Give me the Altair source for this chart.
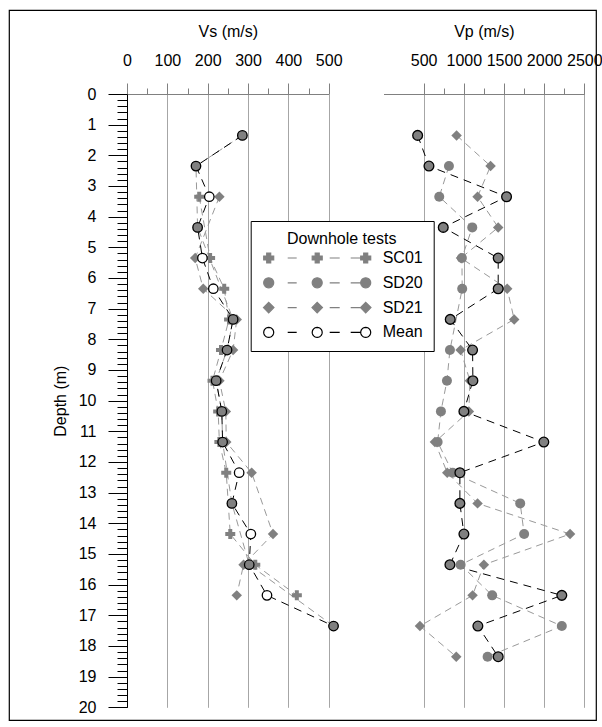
import math

import altair as alt
import pandas as pd

# ---------------------------------------------------------------- data
series_names = ["SC01", "SD20", "SD21", "Mean"]

# Shear-wave velocity (m/s) per test depth
vs_depth = [1.35, 2.35, 3.35, 4.35, 5.35, 6.35, 7.35, 8.35, 9.35, 10.35,
            11.35, 12.35, 13.35, 14.35, 15.35, 16.35, 17.35]
vs_sc01 = [None, None, 179, None, 206, 241, 253, 233, 212, 226,
           229, 246, None, 256, 318, 421, None]
vs_sd20 = [286, 171, None, 175, None, None, 263, 248, 221, 235,
           237, None, 260, None, 303, None, 512]
vs_sd21 = [None, None, 229, None, 169, 189, 272, 263, 229, 245,
           246, 309, None, 362, 289, 272, None]
vs_mean = [286, 171, 204, 175, 187, 214, 263, 248, 221, 235,
           237, 278, 260, 307, 303, 347, 512]

# Compression-wave velocity (m/s) per test depth
vp_depth = [1.35, 2.35, 3.35, 4.35, 5.35, 6.35, 7.35, 8.35, 9.35, 10.35,
            11.35, 12.35, 13.35, 14.35, 15.35, 16.35, 17.35, 18.35]
vp_sd20 = [None, 815, 694, 1105, 976, 980, None, 827, 790, 715,
           674, 861, 1702, 1751, 960, 1353, 2220, 1296]
vp_sd21 = [910, 1333, 1171, 1428, 965, 1540, 1627, 960, 1076, 1063,
           640, 794, 1171, 2323, 1250, 1109, 454, 906]
vp_mean = [425, 566, 1532, 744, 1428, 1428, 831, 1109, 1113, 1001,
           1996, 951, 951, 1001, 827, 2220, 1175, 1428]

vs_ticks = list(range(0, 501, 50))
vp_ticks = list(range(500, 2501, 250))
depth_ticks = [round(i * 0.2, 1) for i in range(101)]


def long_table(depths, columns):
    rows = []
    for name, values in columns.items():
        for d, v in zip(depths, values):
            if v is not None:
                rows.append({"series": name, "depth": d, "value": v})
    return pd.DataFrame(rows)


vs = long_table(vs_depth, {"SC01": vs_sc01, "SD20": vs_sd20,
                           "SD21": vs_sd21, "Mean": vs_mean})
vp = long_table(vp_depth, {"SD20": vp_sd20, "SD21": vp_sd21, "Mean": vp_mean})

# ---------------------------------------------------------------- style
FONT = "Liberation Sans"
GRAY = "#808080"
LINE_GRAY = "#999999"
GRID_GRAY = "#a6a6a6"

FRAME_W, FRAME_H = 587, 710
VS_RANGE = [118, 319.7]
VP_RANGE = [374.5, 575.3]
DEPTH_RANGE = [84, 697.3]

y_major = "abs(datum.value - round(datum.value)) < 0.01"
y_enc = alt.Y(
    "depth:Q",
    scale=alt.Scale(domain=[0, 20], range=DEPTH_RANGE, nice=False, zero=False),
    axis=alt.Axis(
        title="Depth (m)", orient="left", offset=-VS_RANGE[0],
        values=depth_ticks, grid=False, labelOverlap=False,
        labelExpr=f"{y_major} ? format(round(datum.value), 'd') : ''",
        tickSize={"condition": {"test": y_major, "value": 19}, "value": 10},
        tickColor="black", domainColor="black", labelPadding=12,
        titlePadding=10,
    ),
)


def top_axis(title, values, step):
    major = f"datum.value % {step} === 0"
    return alt.Axis(
        title=title, orient="top", offset=-DEPTH_RANGE[0], values=values,
        labelExpr=f"{major} ? format(datum.value, 'd') : ''",
        labelOverlap=False, labelBound=False, labelFlush=False,
        tickSize={"condition": {"test": major, "value": 11}, "value": 6},
        tickColor=GRAY, domainColor=GRAY, grid=True, gridColor=GRID_GRAY,
        gridOpacity={"condition": {"test": f"{major} && datum.value > 0",
                                   "value": 1}, "value": 0},
        labelPadding=15, titlePadding=13,
    )


vs_x = alt.X("value:Q",
             scale=alt.Scale(domain=[0, 500], range=VS_RANGE, nice=False, zero=False),
             axis=top_axis("Vs (m/s)", vs_ticks, 100))
vp_x = alt.X("value:Q",
             scale=alt.Scale(domain=[0, 2500], range=VP_RANGE, nice=False, zero=False),
             axis=top_axis("Vp (m/s)", vp_ticks, 500))


# ---------------------------------------------------------------- legend glyphs
def fmt(v):
    return f"{v:.3f}".rstrip("0").rstrip(".")


def circle_path(cx):
    pts = [(cx + math.cos(2 * math.pi * k / 24), math.sin(2 * math.pi * k / 24))
           for k in range(24)]
    return "M" + "L".join(f"{fmt(x)},{fmt(y)}" for x, y in pts) + "Z"


def cross_path(cx):
    a, b = 1.0, 0.4
    pts = [(-a, -b), (-b, -b), (-b, -a), (b, -a), (b, -b), (a, -b),
           (a, b), (b, b), (b, a), (-b, a), (-b, b), (-a, b)]
    return "M" + "L".join(f"{fmt(cx + x)},{fmt(y)}" for x, y in pts) + "Z"


def diamond_path(cx):
    pts = [(-1.05, 0), (0, -1.05), (1.05, 0), (0, 1.05)]
    return "M" + "L".join(f"{fmt(cx + x)},{fmt(y)}" for x, y in pts) + "Z"


DASHES = "M3.8,0L5.6,0M12.2,0L14.2,0M16.4,0L18.4,0"


def glyph(marker):
    return "".join(marker(c) for c in (0, 9.7, 19.4)) + DASHES


legend_paths = [glyph(cross_path), glyph(circle_path),
                glyph(diamond_path), glyph(circle_path)]

legend_spec = alt.Legend(
    title="Downhole tests", orient="none", legendX=241.7, legendY=211,
    titleFont=FONT, titleFontSize=16, titleFontWeight="normal",
    titleColor="black", titleAnchor="middle", titlePadding=3,
    labelFont=FONT, labelFontSize=16, labelColor="black", labelOffset=106,
    symbolSize=100, symbolStrokeWidth=1.2, rowPadding=8.8, padding=10,
    strokeColor="black", fillColor="white", cornerRadius=0,
)

legend_layer = alt.Chart(vs).transform_filter("false").mark_point(
    opacity=1, strokeWidth=1.2
).encode(
    x=vs_x, y=y_enc,
    shape=alt.Shape("series:N", legend=legend_spec,
                    scale=alt.Scale(domain=series_names, range=legend_paths)),
    fill=alt.Fill("series:N", legend=legend_spec,
                  scale=alt.Scale(domain=series_names,
                                  range=[GRAY, GRAY, GRAY, "white"])),
    stroke=alt.Stroke("series:N", legend=legend_spec,
                      scale=alt.Scale(domain=series_names,
                                      range=[GRAY, GRAY, GRAY, "black"])),
)


# ---------------------------------------------------------------- panels
def only(df, name):
    return alt.Chart(df).transform_filter(alt.datum.series == name)


def test_lines(df, x):
    return alt.Chart(df).transform_filter(alt.datum.series != "Mean").mark_line(
        color=LINE_GRAY, strokeWidth=1, strokeDash=[7, 5]
    ).encode(x=x, y=y_enc, detail="series:N", order="depth:Q")


def mean_line(df, x):
    return only(df, "Mean").mark_line(
        color="black", strokeWidth=1, strokeDash=[8, 6]
    ).encode(x=x, y=y_enc, order="depth:Q")


vs_panel = alt.layer(
    test_lines(vs, vs_x),
    mean_line(vs, vs_x),
    only(vs, "SC01").mark_point(shape="cross", filled=True, color=GRAY,
                                size=100, opacity=1).encode(x=vs_x, y=y_enc),
    only(vs, "SD21").mark_point(shape="diamond", filled=True, color=GRAY,
                                size=110, opacity=1).encode(x=vs_x, y=y_enc),
    only(vs, "Mean").mark_point(shape="circle", filled=True, color="white",
                                size=90, opacity=1).encode(x=vs_x, y=y_enc),
    only(vs, "SD20").mark_point(shape="circle", filled=True, color=GRAY,
                                size=100, opacity=1).encode(x=vs_x, y=y_enc),
    only(vs, "Mean").mark_point(shape="circle", filled=False, color="black",
                                strokeWidth=1.3, size=90, opacity=1
                                ).encode(x=vs_x, y=y_enc),
    legend_layer,
)

vp_panel = alt.layer(
    test_lines(vp, vp_x),
    mean_line(vp, vp_x),
    only(vp, "SD21").mark_point(shape="diamond", filled=True, color=GRAY,
                                size=110, opacity=1).encode(x=vp_x, y=y_enc),
    only(vp, "SD20").mark_point(shape="circle", filled=True, color=GRAY,
                                size=100, opacity=1).encode(x=vp_x, y=y_enc),
    only(vp, "Mean").mark_point(shape="circle", filled=True, fill=GRAY,
                                stroke="black", strokeWidth=1.3, size=95,
                                opacity=1).encode(x=vp_x, y=y_enc),
)

chart = alt.layer(vs_panel, vp_panel).resolve_scale(x="independent").properties(
    width=FRAME_W, height=FRAME_H,
    autosize=alt.AutoSizeParams(type="none"),
    padding={"left": 9, "top": 10, "right": 6, "bottom": 7},
    background="white",
).configure_view(
    stroke="black", strokeWidth=1.2,
).configure_axis(
    labelFont=FONT, titleFont=FONT, labelFontSize=16, titleFontSize=16,
    titleFontWeight="normal", labelColor="black", titleColor="black",
    tickWidth=1, domainWidth=1, gridWidth=1,
)

chart.save("out.html", embed_options={"renderer": "svg", "actions": False})
